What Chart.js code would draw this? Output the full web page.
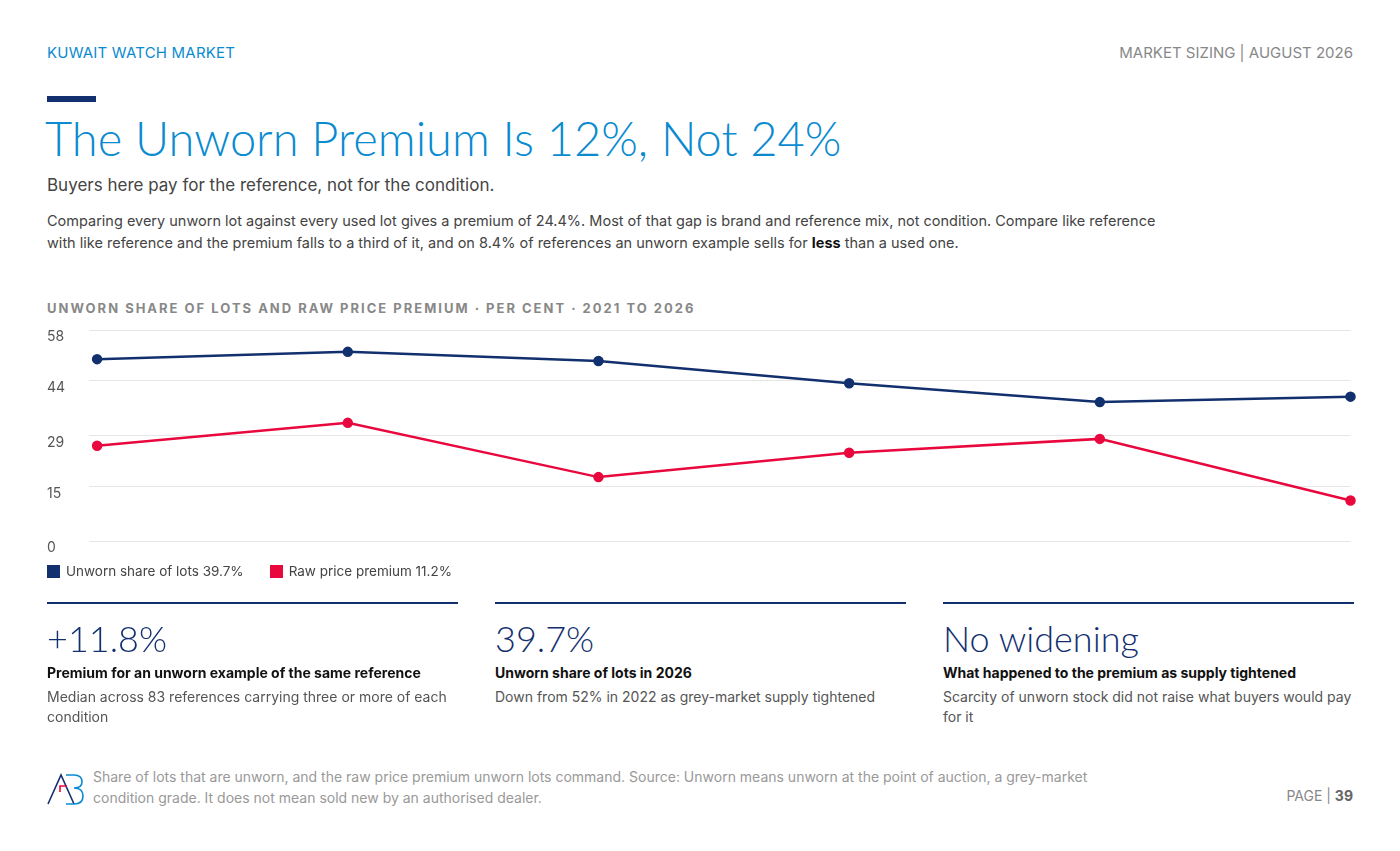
<!DOCTYPE html>
<html>
<head>
<meta charset="utf-8">
<title>Kuwait Watch Market</title>
<script src="https://cdn.jsdelivr.net/npm/chart.js"></script>
<style>
  body { margin: 0; width: 1400px; height: 851px; font-family: Inter, "Noto Sans", sans-serif; background: #fff; position: relative; color: #444; }
  .abs { position: absolute; }
  .kicker { left: 47px; top: 43px; font-size: 15px; color: #0a8bd0; letter-spacing: 0.2px; }
  .right { right: 47px; top: 43px; font-size: 15px; color: #888; }
  .bar { left: 47px; top: 96px; width: 49px; height: 6px; background: #13306e; }
  h1 { position: absolute; left: 45px; top: 110px; margin: 0; font-family: Lato, sans-serif; font-weight: 300; font-size: 47px; color: #0a8bd0; }
  .sub { left: 47px; top: 175px; font-size: 17px; color: #444; }
  .body { left: 47px; top: 210px; width: 1130px; font-size: 14.5px; line-height: 22px; color: #444; }
  .ctitle { left: 47px; top: 300px; font-size: 13px; font-weight: 700; letter-spacing: 2px; color: #888; }
  .legend { left: 47px; top: 563px; font-size: 13.5px; color: #444; display: flex; gap: 26px; }
  .legend span i { display: inline-block; width: 13px; height: 13px; vertical-align: -2px; margin-right: 6px; }
  .card { top: 602px; width: 411px; border-top: 2px solid #13306e; }
  .card .big { font-family: Lato, sans-serif; font-size: 36px; font-weight: 300; color: #13306e; margin-top: 12px; }
  .card .lab { font-size: 14px; font-weight: 700; color: #111; margin-top: 4px; }
  .card .txt { font-size: 14px; line-height: 20px; color: #555; margin-top: 6px; }
  .foot { left: 93px; top: 766px; font-size: 14px; line-height: 21px; color: #999; width: 1020px; }
  .page { right: 47px; top: 787px; font-size: 14px; color: #888; }
</style>
</head>
<body>
<div class="abs kicker">KUWAIT WATCH MARKET</div>
<div class="abs right">MARKET SIZING | AUGUST 2026</div>
<div class="abs bar"></div>
<h1>The Unworn Premium Is 12%, Not 24%</h1>
<div class="abs sub">Buyers here pay for the reference, not for the condition.</div>
<div class="abs body">Comparing every unworn lot against every used lot gives a premium of 24.4%. Most of that gap is brand and reference mix, not condition. Compare like reference with like reference and the premium falls to a third of it, and on 8.4% of references an unworn example sells for <b style="color:#111">less</b> than a used one.</div>
<div class="abs ctitle">UNWORN SHARE OF LOTS AND RAW PRICE PREMIUM · PER CENT · 2021 TO 2026</div>
<div class="abs" style="left:47px; top:318px; width:1310px; height:252px;"><canvas id="c"></canvas></div>
<div class="abs legend">
  <span><i style="background:#13306e"></i>Unworn share of lots 39.7%</span>
  <span><i style="background:#e8083e"></i>Raw price premium 11.2%</span>
</div>
<div class="abs card" style="left:47px;">
  <div class="big">+11.8%</div>
  <div class="lab">Premium for an unworn example of the same reference</div>
  <div class="txt">Median across 83 references carrying three or more of each condition</div>
</div>
<div class="abs card" style="left:495px;">
  <div class="big">39.7%</div>
  <div class="lab">Unworn share of lots in 2026</div>
  <div class="txt">Down from 52% in 2022 as grey-market supply tightened</div>
</div>
<div class="abs card" style="left:943px;">
  <div class="big">No widening</div>
  <div class="lab">What happened to the premium as supply tightened</div>
  <div class="txt">Scarcity of unworn stock did not raise what buyers would pay for it</div>
</div>
<svg class="abs" style="left:46px; top:772px;" width="40" height="34" viewBox="0 0 40 34">
  <path d="M2 32 L15 3 L28 32" fill="none" stroke="#13306e" stroke-width="1.6"/>
  <path d="M14 20 L14 14 L21 14" fill="none" stroke="#e8083e" stroke-width="1.6"/>
  <path d="M20 3 L28 3 Q36 3 36 10 Q36 16 28 16 Q37 16 37 24 Q37 32 28 32 L20 32" fill="none" stroke="#0a8bd0" stroke-width="1.6"/>
</svg>
<div class="abs foot">Share of lots that are unworn, and the raw price premium unworn lots command. Source: Unworn means unworn at the point of auction, a grey-market condition grade. It does not mean sold new by an authorised dealer.</div>
<div class="abs page">PAGE | <b style="color:#666">39</b></div>
<script>
const years = ['2021', '2022', '2023', '2024', '2025', '2026'];
const unwornShare = [50.0, 52.0, 49.5, 43.4, 38.2, 39.7];
const rawPremium = [26.2, 32.5, 17.6, 24.3, 28.1, 11.2];
const yTicks = [0, 15, 29, 44, 58];

new Chart(document.getElementById('c'), {
  type: 'line',
  data: {
    labels: years,
    datasets: [
      { label: 'Unworn share of lots', data: unwornShare, borderColor: '#13306e', backgroundColor: '#13306e', borderWidth: 2.5, pointRadius: 4, tension: 0 },
      { label: 'Raw price premium', data: rawPremium, borderColor: '#e8083e', backgroundColor: '#e8083e', borderWidth: 2.5, pointRadius: 4, tension: 0 }
    ]
  },
  options: {
    responsive: true,
    maintainAspectRatio: false,
    animation: false,
    layout: { padding: { top: 7, bottom: 0, right: 0 } },
    plugins: { legend: { display: false }, tooltip: { enabled: false } },
    scales: {
      x: { display: false, offset: false },
      y: {
        min: 0, max: 58,
        afterBuildTicks: axis => { axis.ticks = yTicks.map(v => ({ value: v })); },
        border: { display: false },
        grid: { color: '#e6e6e6' },
        ticks: { color: '#555', font: { family: 'Inter', size: 14 }, padding: 12, align: 'start', crossAlign: 'far' }
      }
    }
  }
});
</script>
</body>
</html>
